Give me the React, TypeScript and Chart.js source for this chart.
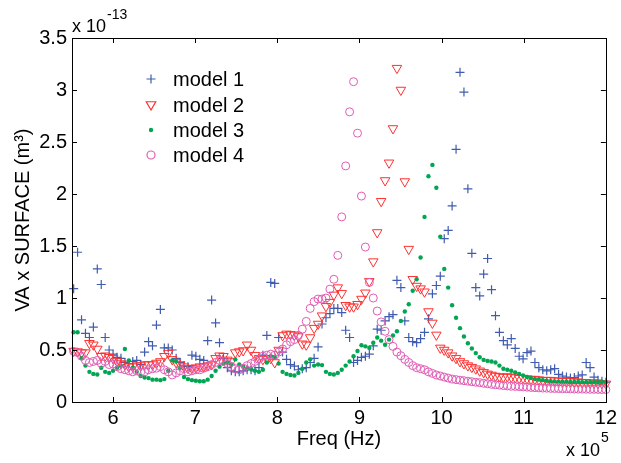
import React, { useEffect, useRef } from 'react';
import { Chart, registerables } from 'chart.js';

Chart.register(...registerables);

// Frequency (x 10^5 Hz)
const freq = [
  5.520, 5.568, 5.616, 5.664, 5.712, 5.760, 5.808, 5.856, 5.904, 5.952,
  6.000, 6.048, 6.096, 6.144, 6.192, 6.240, 6.288, 6.336, 6.384, 6.432,
  6.480, 6.528, 6.576, 6.624, 6.672, 6.720, 6.768, 6.816, 6.864, 6.912,
  6.960, 7.008, 7.056, 7.104, 7.152, 7.200, 7.248, 7.296, 7.344, 7.392,
  7.440, 7.488, 7.536, 7.584, 7.632, 7.680, 7.728, 7.776, 7.824, 7.872,
  7.920, 7.968, 8.016, 8.064, 8.112, 8.160, 8.208, 8.256, 8.304, 8.352,
  8.400, 8.448, 8.496, 8.544, 8.592, 8.640, 8.688, 8.736, 8.784, 8.832,
  8.880, 8.928, 8.976, 9.024, 9.072, 9.120, 9.168, 9.216, 9.264, 9.312,
  9.360, 9.408, 9.456, 9.504, 9.552, 9.600, 9.648, 9.696, 9.744, 9.792,
  9.840, 9.888, 9.936, 9.984, 10.032, 10.080, 10.128, 10.176, 10.224, 10.272,
  10.320, 10.368, 10.416, 10.464, 10.512, 10.560, 10.608, 10.656, 10.704, 10.752,
  10.800, 10.848, 10.896, 10.944, 10.992, 11.040, 11.088, 11.136, 11.184, 11.232,
  11.280, 11.328, 11.376, 11.424, 11.472, 11.520, 11.568, 11.616, 11.664, 11.712,
  11.760, 11.808, 11.856, 11.904, 11.952, 12.000,
];

// VA x SURFACE (x 10^-13 m^3)
const model1 = [
  1.09, 1.44, 0.79, 0.66, 0.62, 0.72, 1.28, 1.13, 0.62, 0.50,
  0.46, 0.43, 0.42, 0.38, 0.37, 0.39, 0.40, 0.36, 0.48, 0.58,
  0.54, 0.74, 0.89, 0.52, 0.52, 0.50, 0.42, 0.38, 0.35, 0.34,
  0.45, 0.44, 0.41, 0.40, 0.59, 0.98, 0.76, 0.57, 0.42, 0.33,
  0.30, 0.29, 0.29, 0.30, 0.31, 0.31, 0.30, 0.33, 0.45, 0.64,
  1.15, 1.14, 0.62, 0.48, 0.41, 0.36, 0.345, 0.31, 0.32, 0.33,
  0.38, 0.42, 0.53, 0.75, 0.81, 0.85, 0.90, 0.90, 0.86, 0.69,
  0.62, 0.38, 0.40, 0.43, 0.44, 0.46, 0.54, 0.70, 0.69, 0.78,
  0.82, 0.84, 1.17, 1.10, 0.78, 0.62, 0.58, 0.57, 0.61, 0.67,
  0.80, 1.04, 1.12, 1.21, 1.57, 1.65, 1.885, 2.43, 3.17, 2.98,
  2.05, 1.43, 1.10, 1.02, 1.23, 1.38, 1.08, 0.83, 0.67, 0.59,
  0.55, 0.61, 0.515, 0.44, 0.415, 0.475, 0.49, 0.38, 0.33, 0.31,
  0.30, 0.31, 0.32, 0.265, 0.25, 0.24, 0.23, 0.235, 0.25, 0.26,
  0.38, 0.33, 0.24, 0.21, 0.20, 0.19,
];

const model2 = [
  0.49, 0.485, 0.475, 0.475, 0.565, 0.55, 0.51, 0.44, 0.445, 0.43,
  0.42, 0.39, 0.37, 0.36, 0.34, 0.34, 0.35, 0.35, 0.36, 0.36,
  0.36, 0.375, 0.39, 0.44, 0.47, 0.41, 0.38, 0.36, 0.34, 0.325,
  0.325, 0.33, 0.34, 0.34, 0.35, 0.36, 0.42, 0.445, 0.44, 0.405,
  0.39, 0.475, 0.485, 0.495, 0.55, 0.50, 0.45, 0.42, 0.41, 0.42,
  0.42, 0.38, 0.50, 0.64, 0.655, 0.65, 0.645, 0.63, 0.56, 0.55,
  0.62, 0.71, 0.75, 0.83, 0.92, 0.96, 1.03, 1.10, 1.045, 0.93,
  0.916, 0.916, 0.94, 0.99, 1.05, 1.16, 1.35, 1.63, 1.93, 2.13,
  2.30, 2.63, 3.21, 3.00, 2.12, 1.47, 1.18, 1.115, 1.09, 1.06,
  0.87, 0.76, 0.645, 0.52, 0.50, 0.475, 0.445, 0.42, 0.39, 0.37,
  0.35, 0.335, 0.32, 0.30, 0.285, 0.27, 0.26, 0.25, 0.245, 0.24,
  0.245, 0.24, 0.235, 0.23, 0.23, 0.225, 0.22, 0.22, 0.215, 0.21,
  0.21, 0.21, 0.205, 0.205, 0.20, 0.20, 0.20, 0.195, 0.195, 0.19,
  0.19, 0.185, 0.185, 0.18, 0.18, 0.175,
];

const model3 = [
  0.67, 0.67, 0.42, 0.35, 0.29, 0.27, 0.265, 0.33, 0.29, 0.28,
  0.30, 0.33, 0.35, 0.51, 0.40, 0.33, 0.29, 0.25, 0.235, 0.23,
  0.215, 0.215, 0.21, 0.22, 0.30, 0.40, 0.39, 0.33, 0.24, 0.22,
  0.21, 0.205, 0.20, 0.20, 0.215, 0.25, 0.30, 0.34, 0.37, 0.38,
  0.36, 0.41, 0.36, 0.34, 0.32, 0.32, 0.30, 0.29, 0.31, 0.38,
  0.44, 0.43, 0.37, 0.29, 0.27, 0.26, 0.255, 0.28, 0.32, 0.38,
  0.41, 0.35, 0.36, 0.355, 0.29, 0.27, 0.265, 0.28, 0.31, 0.35,
  0.39, 0.44, 0.49, 0.545, 0.535, 0.52, 0.57, 0.62, 0.59, 0.55,
  0.60, 0.64, 0.68, 0.78, 0.87, 0.94, 1.07, 1.18, 1.39, 1.78,
  2.17, 2.28, 2.06, 1.59, 1.28, 1.10, 0.93, 0.81, 0.71, 0.63,
  0.565, 0.515, 0.47, 0.43, 0.405, 0.395, 0.39, 0.38, 0.35, 0.32,
  0.31, 0.30, 0.285, 0.27, 0.255, 0.24, 0.23, 0.22, 0.215, 0.21,
  0.205, 0.20, 0.198, 0.196, 0.195, 0.194, 0.193, 0.192, 0.192, 0.191,
  0.19, 0.19, 0.19, 0.19, 0.19, 0.19,
];

const model4 = [
  0.486, 0.476, 0.44, 0.40, 0.38, 0.39, 0.40, 0.37, 0.39, 0.36,
  0.365, 0.34, 0.32, 0.31, 0.30, 0.29, 0.30, 0.285, 0.29, 0.31,
  0.32, 0.325, 0.34, 0.31, 0.29, 0.26, 0.28, 0.30, 0.32, 0.29,
  0.30, 0.31, 0.31, 0.325, 0.34, 0.36, 0.38, 0.40, 0.39, 0.37,
  0.34, 0.32, 0.31, 0.325, 0.35, 0.37, 0.39, 0.41, 0.44, 0.45,
  0.46, 0.45, 0.48, 0.51, 0.55, 0.58, 0.60, 0.64, 0.70, 0.775,
  0.90, 0.965, 0.99, 0.99, 1.00, 1.085, 1.18, 1.41, 1.78, 2.27,
  2.79, 3.08, 2.585, 1.98, 1.49, 1.15, 1.00, 0.875, 0.77, 0.68,
  0.60, 0.535, 0.48, 0.445, 0.41, 0.38, 0.35, 0.33, 0.32, 0.31,
  0.29, 0.275, 0.26, 0.25, 0.24, 0.23, 0.22, 0.215, 0.21, 0.205,
  0.20, 0.195, 0.19, 0.186, 0.18, 0.175, 0.17, 0.166, 0.162, 0.158,
  0.155, 0.152, 0.15, 0.148, 0.145, 0.143, 0.14, 0.138, 0.136, 0.134,
  0.133, 0.131, 0.13, 0.129, 0.128, 0.127, 0.126, 0.125, 0.124, 0.124,
  0.123, 0.122, 0.122, 0.121, 0.12, 0.12,
];

const seriesNames = ['model 1', 'model 2', 'model 3', 'model 4'];
const xTicks = [6, 7, 8, 9, 10, 11, 12];
const yTicks = [0, 0.5, 1, 1.5, 2, 2.5, 3, 3.5];

const BLUE = '#3f5cb0';
const RED = '#ff3030';
const GREEN = '#00a651';
const PINK = '#e05cb4';
const FONT = "'Liberation Sans', Arial, Helvetica, sans-serif";

function drawMarker(ctx: CanvasRenderingContext2D, kind: number, x: number, y: number) {
  ctx.save();
  ctx.lineWidth = 1.2;
  if (kind === 0) {
    ctx.strokeStyle = BLUE;
    ctx.beginPath();
    ctx.moveTo(x - 4.5, y); ctx.lineTo(x + 4.5, y);
    ctx.moveTo(x, y - 4.5); ctx.lineTo(x, y + 4.5);
    ctx.stroke();
  } else if (kind === 1) {
    ctx.strokeStyle = RED;
    const r = 5.5;
    ctx.beginPath();
    ctx.moveTo(x, y + r);
    ctx.lineTo(x - r * 0.866, y - r * 0.5);
    ctx.lineTo(x + r * 0.866, y - r * 0.5);
    ctx.closePath();
    ctx.stroke();
  } else if (kind === 2) {
    ctx.fillStyle = GREEN;
    ctx.beginPath();
    ctx.arc(x, y, 2.2, 0, Math.PI * 2);
    ctx.fill();
  } else {
    ctx.strokeStyle = PINK;
    ctx.beginPath();
    ctx.arc(x, y, 4, 0, Math.PI * 2);
    ctx.stroke();
  }
  ctx.restore();
}

const decor = {
  id: 'decor',
  afterDatasetsDraw(chart: any) {
    const { ctx, chartArea: a, scales } = chart;
    const xs = scales.x;
    const ys = scales.y;
    ctx.save();
    ctx.strokeStyle = '#000';
    ctx.lineWidth = 1;
    ctx.strokeRect(Math.round(a.left) + 0.5, Math.round(a.top) + 0.5, Math.round(a.right - a.left), Math.round(a.bottom - a.top));
    const tl = 5;
    ctx.beginPath();
    xTicks.forEach((v) => {
      const px = Math.round(xs.getPixelForValue(v)) + 0.5;
      ctx.moveTo(px, a.bottom); ctx.lineTo(px, a.bottom - tl);
      ctx.moveTo(px, a.top); ctx.lineTo(px, a.top + tl);
    });
    yTicks.forEach((v) => {
      const py = Math.round(ys.getPixelForValue(v)) + 0.5;
      ctx.moveTo(a.left, py); ctx.lineTo(a.left + tl, py);
      ctx.moveTo(a.right, py); ctx.lineTo(a.right - tl, py);
    });
    ctx.stroke();

    // exponent labels
    ctx.fillStyle = '#000';
    ctx.textAlign = 'left';
    ctx.textBaseline = 'alphabetic';
    ctx.font = `18px ${FONT}`;
    ctx.fillText('x 10', a.left, 32);
    const w1 = ctx.measureText('x 10').width;
    ctx.font = `14px ${FONT}`;
    ctx.fillText('-13', a.left + w1 + 1, 19);

    ctx.font = `18px ${FONT}`;
    ctx.fillText('x 10', 566, 456);
    const w2 = ctx.measureText('x 10').width;
    ctx.font = `14px ${FONT}`;
    ctx.fillText('5', 566 + w2 + 1, 442);

    // legend
    const rows = [79, 104.5, 130, 155];
    ctx.font = `20px ${FONT}`;
    seriesNames.forEach((name, i) => {
      drawMarker(ctx, i, 151, rows[i]);
      ctx.fillStyle = '#000';
      ctx.textBaseline = 'alphabetic';
      ctx.fillText(name, 173, rows[i] + 7);
    });
    ctx.restore();
  },
};

export default function App() {
  const ref = useRef<HTMLCanvasElement>(null);
  useEffect(() => {
    const canvas = ref.current;
    if (!canvas) return;
    const pts = (arr: number[]) => freq.map((f, i) => ({ x: f, y: arr[i] }));
    const chart = new Chart(canvas, {
      type: 'scatter',
      data: {
        datasets: [
          {
            label: seriesNames[0], data: pts(model1), pointStyle: 'cross', pointRadius: 4.5,
            borderColor: BLUE, backgroundColor: BLUE, pointBorderWidth: 1.2, order: 4, clip: false,
          },
          {
            label: seriesNames[1], data: pts(model2), pointStyle: 'triangle', pointRotation: 180, pointRadius: 5.5,
            borderColor: RED, backgroundColor: 'rgba(0,0,0,0)', pointBorderWidth: 1, order: 3, clip: false,
          },
          {
            label: seriesNames[2], data: pts(model3), pointStyle: 'circle', pointRadius: 2.2,
            borderColor: GREEN, backgroundColor: GREEN, pointBorderWidth: 0, order: 2, clip: false,
          },
          {
            label: seriesNames[3], data: pts(model4), pointStyle: 'circle', pointRadius: 4,
            borderColor: PINK, backgroundColor: 'rgba(0,0,0,0)', pointBorderWidth: 1, order: 1, clip: false,
          },
        ] as any,
      },
      options: {
        animation: false,
        responsive: false,
        maintainAspectRatio: false,
        devicePixelRatio: 1,
        events: [],
        layout: { padding: { top: 38, right: 12, bottom: 0, left: 0 } },
        plugins: { legend: { display: false }, tooltip: { enabled: false } },
        scales: {
          x: {
            type: 'linear',
            min: 5.5,
            max: 12,
            afterBuildTicks: (s: any) => { s.ticks = xTicks.map((v) => ({ value: v })); },
            afterFit: (s: any) => { s.height = 61; },
            ticks: { color: '#000', font: { family: FONT, size: 20 }, padding: 4, maxRotation: 0, autoSkip: false },
            grid: { display: false, drawTicks: false },
            border: { display: false },
            title: {
              display: true, text: 'Freq (Hz)', color: '#000',
              font: { family: FONT, size: 20 }, padding: { top: 0, bottom: 12 },
            },
          },
          y: {
            type: 'linear',
            min: 0,
            max: 3.5,
            afterBuildTicks: (s: any) => { s.ticks = yTicks.map((v) => ({ value: v })); },
            afterFit: (s: any) => { s.width = 72; },
            ticks: { color: '#000', font: { family: FONT, size: 20 }, padding: 5, callback: (v: any) => String(v) },
            grid: { display: false, drawTicks: false },
            border: { display: false },
            title: {
              display: true, text: 'VA x SURFACE (m³)', color: '#000',
              font: { family: FONT, size: 20 }, padding: { top: 11, bottom: 0 },
            },
          },
        },
      } as any,
      plugins: [decor],
    });
    return () => chart.destroy();
  }, []);
  return (
    <div style={{ position: 'absolute', left: 0, top: 0, width: 621, height: 463, background: '#fff' }}>
      <canvas ref={ref} width={621} height={463} style={{ display: 'block' }} />
    </div>
  );
}
